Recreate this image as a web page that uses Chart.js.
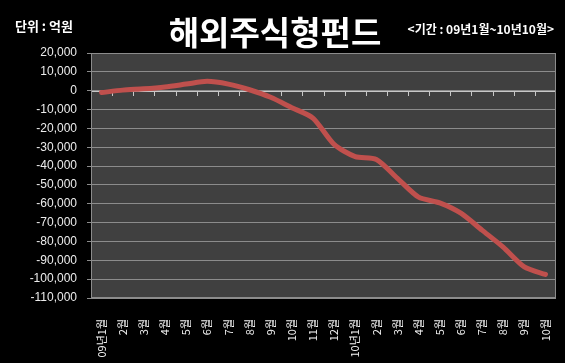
<!DOCTYPE html>
<html><head><meta charset="utf-8">
<script src="https://cdn.jsdelivr.net/npm/chart.js@4.4.0/dist/chart.umd.min.js"></script>
<style>html,body{margin:0;padding:0;background:#000;}#wrap{width:565px;height:363px;}</style>
</head><body>
<div id="wrap"><canvas id="c" width="565" height="363"></canvas></div>
<script>
const categories = ["09년1월","2월","3월","4월","5월","6월","7월","8월","9월","10월","11월","12월",
                    "10년1월","2월","3월","4월","5월","6월","7월","8월","9월","10월"];
const fundValues = [-1000, 300, 1000, 2000, 3500, 5000, 3500, 500, -3500, -9000, -14500, -28500,
                    -35000, -36500, -46500, -56500, -59500, -65000, -74000, -83000, -93500, -97500];
const yTicks = { min: -110000, max: 20000, step: 10000 };
const titleText = "해외주식형펀드";
const unitText = "단위 : 억원";
const periodText = "<기간 : 09년1월~10년10월>";

const plotBg = {
  id: 'plotBg',
  beforeDraw(chart) {
    const {ctx, chartArea: a} = chart;
    ctx.save();
    ctx.fillStyle = '#404040';
    ctx.fillRect(a.left, a.top, a.right - a.left, a.bottom - a.top);
    ctx.restore();
  },
  beforeDatasetsDraw(chart) {
    const {ctx, chartArea: a, scales} = chart;
    const y0 = scales.y.getPixelForValue(0);
    ctx.save();
    ctx.strokeStyle = '#c8c8c8';
    ctx.lineWidth = 1;
    ctx.beginPath();
    ctx.moveTo(a.left, Math.round(y0) + 0.5);
    ctx.lineTo(a.right, Math.round(y0) + 0.5);
    for (let i = 1; i < categories.length; i++) {
      const x = Math.round(scales.x.getPixelForValue(i - 0.5)) + 0.5;
      ctx.moveTo(x, Math.round(y0));
      ctx.lineTo(x, Math.round(y0) + 5);
    }
    ctx.stroke();
    ctx.strokeStyle = '#8c8c8c';
    ctx.strokeRect(a.left + 0.5, a.top + 0.5, a.right - a.left - 1, a.bottom - a.top - 1);
    ctx.restore();
  },
  afterDraw(chart) {
    const {ctx} = chart;
    ctx.save();
    ctx.fillStyle = '#ffffff';
    ctx.textBaseline = 'middle';
    ctx.font = 'bold 33px "Noto Sans CJK KR"';
    ctx.textAlign = 'center';
    ctx.fillText(titleText, 275, 32);
    ctx.font = 'bold 13px "Noto Sans CJK KR"';
    ctx.textAlign = 'left';
    ctx.fillText(unitText, 15, 26);
    ctx.font = 'bold 12px "Noto Sans CJK KR"';
    ctx.textAlign = 'right';
    ctx.fillText(periodText, 554, 29);
    ctx.restore();
  }
};

new Chart(document.getElementById('c'), {
  type: 'line',
  data: {
    labels: categories,
    datasets: [{
      data: fundValues,
      borderColor: '#c0504d',
      borderWidth: 5,
      pointRadius: 0,
      tension: 0.25,
      borderCapStyle: 'round',
      borderJoinStyle: 'round'
    }]
  },
  options: {
    responsive: false,
    animation: false,
    layout: { padding: { left: 0, right: 9, top: 53, bottom: 0 } },
    plugins: {
      legend: { display: false },
      tooltip: { enabled: false },
      title: { display: false }
    },
    scales: {
      x: {
        offset: true,
        grid: { display: false, offset: true },
        border: { display: false },
        ticks: {
          color: '#f0f0f0',
          font: { family: '"Noto Sans CJK KR"', size: 11 },
          minRotation: 90, maxRotation: 90,
          autoSkip: false,
          padding: 13
        },
        afterFit(s) { s.height = 65; s.paddingLeft = 0; s.paddingRight = 0; }
      },
      y: {
        min: yTicks.min, max: yTicks.max,
        ticks: {
          stepSize: yTicks.step,
          color: '#ececec',
          font: { family: '"Liberation Sans"', size: 12 },
          padding: 10,
          callback: v => v.toLocaleString('en-US')
        },
        grid: { color: '#8c8c8c', tickLength: 4, drawTicks: true, tickColor: '#8c8c8c' },
        border: { display: true, color: '#8c8c8c' },
        afterFit(s) { s.width = 91; }
      }
    }
  },
  plugins: [plotBg]
});
</script>
</body></html>
